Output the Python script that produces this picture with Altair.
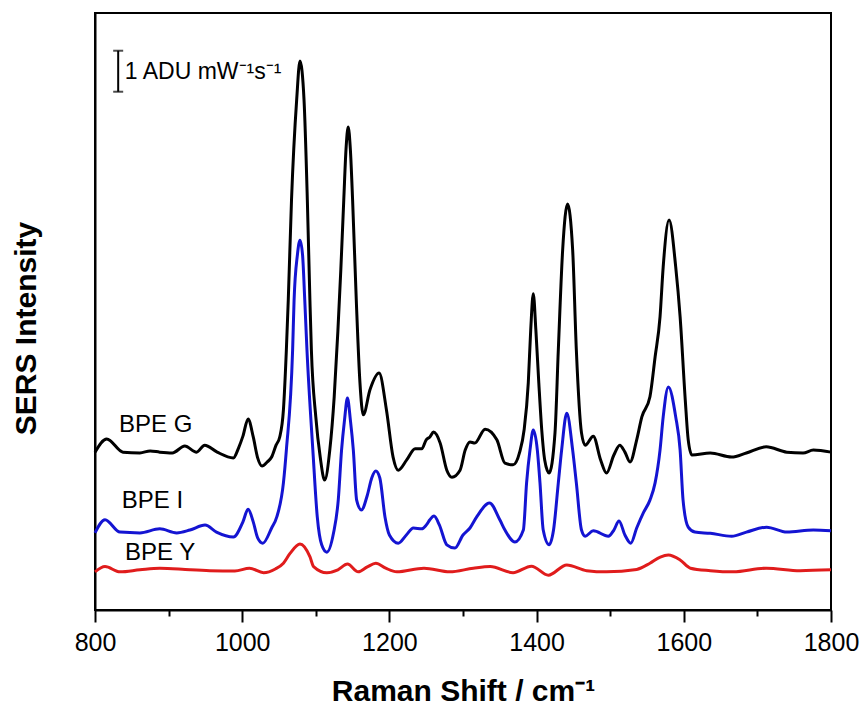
import altair as alt
import pandas as pd

# ---- data (Raman shift in cm^-1, intensity in ADU mW^-1 s^-1, offset stacked) ----
g_shift = [800, 816, 838, 861, 875, 888, 905, 922, 938, 949, 966, 988, 995, 1001, 1008, 1015, 1021, 1027,
           1034, 1040, 1046, 1051, 1056, 1060, 1062.6, 1067, 1074, 1078.5, 1084, 1088.5, 1092, 1094, 1100,
           1106, 1112, 1119, 1125, 1130, 1134, 1138, 1141, 1144, 1147, 1150, 1155, 1160, 1164.5, 1173.6, 1186,
           1196, 1205, 1212, 1223.5, 1235, 1244, 1250, 1255, 1260, 1269, 1278, 1285, 1296, 1303, 1309.5,
           1316, 1330, 1346, 1357, 1368, 1377, 1383, 1388.7, 1392, 1395.5, 1399, 1403, 1407, 1411, 1417,
           1425, 1429.5, 1435.4, 1442, 1449, 1454, 1461, 1466, 1477, 1487, 1495, 1505, 1513, 1520, 1527,
           1536, 1543, 1554, 1561, 1567.7, 1572, 1580, 1589, 1595, 1602, 1606, 1611, 1636, 1665, 1685,
           1712, 1740, 1762, 1776, 1800]
g_int = [3.85, 4.17, 3.85, 3.83, 3.88, 3.85, 3.83, 4.00, 3.85, 4.02, 3.85, 3.71, 3.95, 4.24, 4.66, 4.22, 3.71, 3.51,
         3.61, 3.73, 4.02, 4.22, 4.88, 6.34, 7.56, 10.0, 12.44, 13.39, 12.44, 10.0, 7.56, 6.34, 4.71,
         3.73, 3.17, 3.90, 5.20, 6.80, 8.30, 10.0, 11.22, 11.78, 11.22, 10.0, 7.56, 5.54, 4.76, 5.37, 5.78,
         4.88, 3.73, 3.41, 3.66, 3.93, 3.93, 4.15, 4.22, 4.34, 4.07, 3.41, 3.24, 3.41, 3.90, 4.10,
         4.07, 4.41, 4.15, 3.58, 3.54, 3.85, 4.39, 5.54, 6.83, 7.71, 6.83, 5.54, 4.39, 3.66, 3.34,
         4.32, 6.34, 8.78, 9.90, 8.78, 6.34, 4.32, 4.02, 4.24, 3.66, 3.34, 3.78, 4.02, 3.85, 3.61,
         4.15, 4.71, 5.20, 6.17, 7.15, 8.37, 9.51, 8.37, 7.15, 5.12, 4.15, 3.78, 3.83, 3.73, 3.83,
         3.98, 3.85, 3.83, 3.90, 3.85]

i_shift = [800, 813.6, 834, 861, 888, 911, 929, 949.5, 965, 988, 1001, 1008, 1015, 1021, 1028, 1040, 1047, 1056,
           1060, 1068.5, 1070.5, 1075, 1078.5, 1082, 1085, 1088, 1096, 1102, 1108, 1115, 1124, 1130.5, 1135,
           1139, 1143, 1147, 1151, 1155.5, 1162, 1170, 1176, 1181.5, 1187, 1194, 1200, 1212, 1223, 1232.5,
           1244, 1250, 1255, 1260.6, 1268, 1278, 1289, 1300, 1309.5, 1318.6, 1336, 1350, 1357, 1370.6, 1382,
           1386.4, 1391, 1395.5, 1401, 1404.6, 1409, 1417, 1423, 1429.5, 1434, 1441, 1449, 1454, 1461, 1466,
           1477, 1497.5, 1505, 1512, 1520, 1528, 1536, 1545, 1554, 1561, 1567.7, 1572, 1579, 1589, 1595,
           1599, 1606, 1615, 1636, 1665, 1685, 1712.5, 1740, 1776, 1800]
i_int = [1.88, 2.20, 1.90, 1.88, 1.98, 1.88, 1.95, 2.07, 1.90, 1.78, 2.15, 2.46, 2.15, 1.76, 1.63, 2.00, 2.27, 3.10,
         3.90, 6.34, 7.56, 8.66, 9.02, 8.66, 7.56, 6.34, 3.90, 2.27, 1.59, 1.41, 1.87, 2.68, 3.90,
         4.63, 5.17, 4.63, 3.90, 2.68, 2.44, 2.80, 3.22, 3.39, 3.22, 2.27, 1.83, 1.63, 1.83, 2.00,
         1.98, 2.07, 2.20, 2.29, 2.07, 1.59, 1.51, 1.83, 2.00, 2.27, 2.61, 2.20, 1.95, 1.66, 1.95,
         3.10, 3.90, 4.39, 3.90, 3.10, 1.95, 1.59, 1.95, 3.10, 3.90, 4.80, 3.90, 3.10, 1.95, 1.80,
         1.93, 1.80, 1.95, 2.17, 1.83, 1.63, 2.00, 2.37, 2.68, 3.10, 3.90, 4.71, 5.44, 4.71, 3.90,
         2.68, 2.02, 1.90, 1.87, 1.80, 1.90, 2.02, 1.90, 1.95, 1.93]

y_shift = [800, 813.6, 834, 861, 888, 929, 956, 990, 1010, 1029, 1045, 1056, 1065, 1078.5, 1092, 1097, 1115, 1130,
           1143, 1157.7, 1170, 1181.5, 1195, 1210, 1247, 1282, 1314, 1337, 1368, 1393, 1416, 1441, 1468,
           1495, 1536, 1554, 1568, 1579, 1595, 1609, 1636, 1667, 1712, 1758, 1800]
y_int = [0.93, 1.06, 0.93, 0.98, 1.02, 0.98, 0.96, 0.95, 1.02, 0.91, 1.00, 1.14, 1.38, 1.61, 1.30, 1.06, 0.91, 0.98,
         1.12, 0.93, 1.05, 1.14, 1.02, 0.93, 1.02, 0.93, 1.02, 1.06, 0.91, 1.07, 0.85, 1.10, 0.96,
         0.93, 0.99, 1.14, 1.29, 1.34, 1.22, 1.02, 0.96, 0.93, 1.02, 0.96, 0.98]

series_names = ["BPE G", "BPE I", "BPE Y"]
series_colors = ["#000000", "#1414d2", "#e01c1c"]

label_shift = [832.6, 836.3, 840.8]
label_int = [4.51, 2.67, 1.39]

bar_shift = [831.5]
bar_low = [12.64]
bar_high = [13.64]
bar_text = ["1 ADU mW\u207b\u00b9s\u207b\u00b9"]
bar_text_shift = [840.5]
bar_text_int = [13.13]

# ---- tables ----
rows = []
for name, xs, ys in zip(series_names, [g_shift, i_shift, y_shift], [g_int, i_int, y_int]):
    for xv, yv in zip(xs, ys):
        rows.append({"series": name, "shift": xv, "intensity": yv})
spectra = pd.DataFrame(rows)
labels = pd.DataFrame({"series": series_names, "shift": label_shift, "intensity": label_int})
bar = pd.DataFrame({"shift": bar_shift, "low": bar_low, "high": bar_high})
bar_ends = pd.DataFrame({"shift": bar_shift * 2, "intensity": bar_low + bar_high})
bar_lbl = pd.DataFrame({"shift": bar_text_shift, "intensity": bar_text_int, "text": bar_text})

FONT = "Liberation Sans"
x_scale = alt.Scale(domain=[800, 1800], nice=False, zero=False)
y_scale = alt.Scale(domain=[0, 14.56], nice=False, zero=False)

x_axis = alt.Axis(
    values=list(range(800, 1801, 100)),
    format="d",
    labelExpr="datum.value % 200 === 0 ? datum.label : ''",
    tickSize={"condition": {"test": "datum.value % 200 === 0", "value": 12}, "value": 6},
    tickWidth=2, tickColor="black",
    domainWidth=2, domainColor="black",
    labelFont=FONT, labelFontSize=25, labelColor="black", labelPadding=8,
    labelOverlap=False, labelFlush=False,
    grid=False,
    title="Raman Shift / cm\u207b\u00b9",
    titleFont=FONT, titleFontSize=30, titleFontWeight="bold", titleColor="black",
    titleX=368, titleY=90, titleAlign="center", titleBaseline="alphabetic",
)
y_axis = alt.Axis(
    labels=False, ticks=False, grid=False,
    domainWidth=2, domainColor="black",
    title="SERS Intensity",
    titleFont=FONT, titleFontSize=30, titleFontWeight="bold", titleColor="black",
    titleAngle=270, titleX=-60, titleY=315, titleAlign="center", titleBaseline="alphabetic",
)

color = alt.Color("series:N", scale=alt.Scale(domain=series_names, range=series_colors), legend=None)

lines = alt.Chart(spectra).mark_line(strokeWidth=3, interpolate="monotone").encode(
    x=alt.X("shift:Q", scale=x_scale, axis=x_axis),
    y=alt.Y("intensity:Q", scale=y_scale, axis=y_axis),
    color=color,
    detail="series:N",
)

texts = alt.Chart(labels).mark_text(font=FONT, fontSize=24, align="left", baseline="middle", color="black").encode(
    x=alt.X("shift:Q", scale=x_scale),
    y=alt.Y("intensity:Q", scale=y_scale),
    text="series:N",
)

bar_rule = alt.Chart(bar).mark_rule(strokeWidth=2, color="black").encode(
    x=alt.X("shift:Q", scale=x_scale),
    y=alt.Y("low:Q", scale=y_scale),
    y2="high:Q",
)
bar_caps = alt.Chart(bar_ends).mark_tick(orient="horizontal", size=10, thickness=2, color="black").encode(
    x=alt.X("shift:Q", scale=x_scale),
    y=alt.Y("intensity:Q", scale=y_scale),
)
bar_label = alt.Chart(bar_lbl).mark_text(font=FONT, fontSize=23, align="left", baseline="middle", color="black").encode(
    x=alt.X("shift:Q", scale=x_scale),
    y=alt.Y("intensity:Q", scale=y_scale),
    text="text:N",
)

chart = alt.layer(lines, texts, bar_rule, bar_caps, bar_label).properties(
    width=736, height=597,
    autosize=alt.AutoSizeParams(type="none"),
    padding={"left": 95, "top": 13, "right": 31, "bottom": 97},
    background="white",
).configure_view(stroke="black", strokeWidth=2)

chart.save("out.html", embed_options={"renderer": "svg", "actions": False})
